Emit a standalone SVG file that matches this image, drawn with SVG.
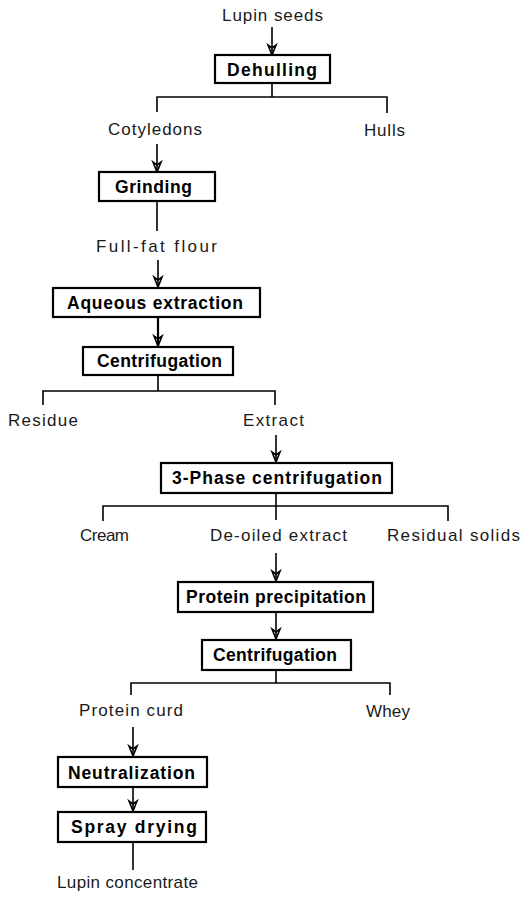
<svg xmlns="http://www.w3.org/2000/svg" width="522" height="900" viewBox="0 0 522 900">
<style>
.lbl{font-family:"Liberation Sans",Arial,sans-serif;font-size:17px;fill:#1a1a1a}
.box rect{fill:#fff;stroke:#000;stroke-width:2.2}
.box text{font-family:"Liberation Sans",Arial,sans-serif;font-size:17.5px;font-weight:bold;fill:#000}
#connectors line,#connectors path{stroke:#000;stroke-width:1.6;fill:none}
</style>
<rect width="522" height="900" fill="#fff"/>

<g id="connectors">
<line x1="272" y1="27" x2="272" y2="54"/>
<path d="M272,83 V97 M157,112 V97 H387 V113"/>
<line x1="157" y1="144" x2="157" y2="171"/>
<path d="M157,201 V231"/>
<line x1="158" y1="260" x2="158" y2="287"/>
<line x1="158" y1="317" x2="158" y2="346" style="stroke-width:2.2"/>
<path d="M158,375 V391 M43,405 V391 H275 V405"/>
<line x1="276" y1="435" x2="276" y2="462"/>
<path d="M276,493 V520 M103,521 V506 H448 V521"/>
<line x1="276" y1="553" x2="276" y2="581"/>
<line x1="276" y1="612" x2="276" y2="639"/>
<path d="M276,670 V683 M131,695 V683 H390 V695"/>
<line x1="133" y1="727" x2="133" y2="756"/>
<line x1="133" y1="787" x2="133" y2="811"/>
<path d="M133,842 V870"/>
<g id="arrowheads" fill="#000">
<path d="M268,45 L272,55 L276,45 L272,48 Z"/>
<path d="M153,162 L157,172 L161,162 L157,165 Z"/>
<path d="M154,277 L158,287 L162,277 L158,280 Z"/>
<path d="M154,336 L158,346 L162,336 L158,339 Z"/>
<path d="M272,452 L276,462 L280,452 L276,455 Z"/>
<path d="M272,571 L276,581 L280,571 L276,574 Z"/>
<path d="M272,629 L276,639 L280,629 L276,632 Z"/>
<path d="M129,746 L133,756 L137,746 L133,749 Z"/>
<path d="M129,801 L133,811 L137,801 L133,804 Z"/>
</g>
</g>

<g id="lupin-seeds"><text class="lbl" x="222" y="21" textLength="101" lengthAdjust="spacing">Lupin seeds</text></g>
<g id="dehulling" class="box"><rect x="215" y="55" width="115" height="28"/><text x="227" y="76" textLength="90" lengthAdjust="spacing">Dehulling</text></g>
<g id="cotyledons"><text class="lbl" x="108" y="135" textLength="94" lengthAdjust="spacing">Cotyledons</text></g>
<g id="hulls"><text class="lbl" x="364" y="136" textLength="41" lengthAdjust="spacing">Hulls</text></g>
<g id="grinding" class="box"><rect x="99" y="172" width="116" height="29"/><text x="115" y="193" textLength="77" lengthAdjust="spacing">Grinding</text></g>
<g id="full-fat-flour"><text class="lbl" x="96" y="252" textLength="121" lengthAdjust="spacing">Full-fat flour</text></g>
<g id="aqueous-extraction" class="box"><rect x="53" y="288" width="207" height="29"/><text x="67" y="309" textLength="176" lengthAdjust="spacing">Aqueous extraction</text></g>
<g id="centrifugation-1" class="box"><rect x="83" y="347" width="150" height="28"/><text x="97" y="367" textLength="125" lengthAdjust="spacing">Centrifugation</text></g>
<g id="residue"><text class="lbl" x="8" y="426" textLength="70" lengthAdjust="spacing">Residue</text></g>
<g id="extract"><text class="lbl" x="243" y="426" textLength="61" lengthAdjust="spacing">Extract</text></g>
<g id="three-phase-centrifugation" class="box"><rect x="161" y="463" width="231" height="30"/><text x="172" y="484" textLength="210" lengthAdjust="spacing">3-Phase centrifugation</text></g>
<g id="cream"><text class="lbl" x="80" y="541" textLength="49" lengthAdjust="spacing">Cream</text></g>
<g id="de-oiled-extract"><text class="lbl" x="210" y="541" textLength="137" lengthAdjust="spacing">De-oiled extract</text></g>
<g id="residual-solids"><text class="lbl" x="387" y="541" textLength="133" lengthAdjust="spacing">Residual solids</text></g>
<g id="protein-precipitation" class="box"><rect x="178" y="582" width="195" height="30"/><text x="186" y="603" textLength="180" lengthAdjust="spacing">Protein precipitation</text></g>
<g id="centrifugation-2" class="box"><rect x="202" y="640" width="149" height="30"/><text x="213" y="661" textLength="124" lengthAdjust="spacing">Centrifugation</text></g>
<g id="protein-curd"><text class="lbl" x="79" y="716" textLength="104" lengthAdjust="spacing">Protein curd</text></g>
<g id="whey"><text class="lbl" x="366" y="717" textLength="44" lengthAdjust="spacing">Whey</text></g>
<g id="neutralization" class="box"><rect x="58" y="757" width="149" height="30"/><text x="68" y="779" textLength="127" lengthAdjust="spacing">Neutralization</text></g>
<g id="spray-drying" class="box"><rect x="58" y="812" width="148" height="30"/><text x="71" y="833" textLength="126" lengthAdjust="spacing">Spray drying</text></g>
<g id="lupin-concentrate"><text class="lbl" x="57" y="888" textLength="141" lengthAdjust="spacing">Lupin concentrate</text></g>
</svg>
